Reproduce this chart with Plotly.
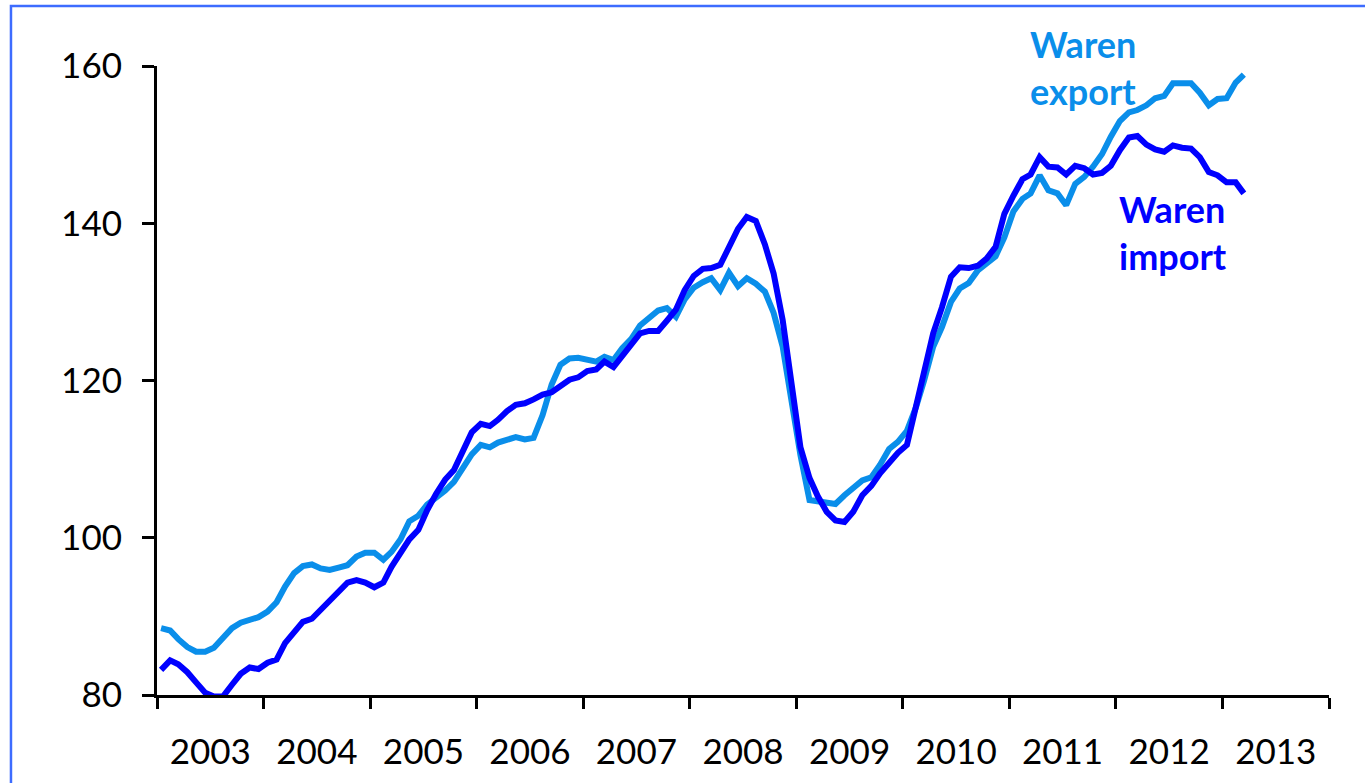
import pandas as pd
import plotly.graph_objects as go

# monthly index values, Jan 2003 .. Mar 2013
START_MONTH = "2003-01-01"

waren_export = [
    88.5, 88.2, 87.1, 86.1, 85.5, 85.5, 86.0, 87.2, 88.5, 89.2, 89.5, 89.9,
    90.6, 91.8, 93.8, 95.5, 96.4, 96.6, 96.1, 95.9, 96.2, 96.5, 97.6, 98.1,
    98.1, 97.2, 98.2, 99.8, 102.1, 102.8, 104.2, 105.0, 106.0, 107.1, 108.9, 110.6,
    111.8, 111.5, 112.1, 112.5, 112.8, 112.5, 112.7, 115.6, 119.5, 122.0, 122.8, 122.9,
    122.6, 122.4, 123.0, 122.6, 124.1, 125.3, 127.0, 128.0, 128.9, 129.2, 128.1, 130.3,
    131.8, 132.5, 133.0, 131.5, 133.7, 132.0, 133.0, 132.3, 131.3, 128.6, 124.3, 117.5,
    110.5, 104.8, 104.6, 104.4, 104.3, 105.4, 106.3, 107.3, 107.7, 109.3, 111.3, 112.2,
    113.6, 116.6, 120.0, 124.3, 126.8, 130.0, 131.7, 132.4, 134.0, 135.0, 135.8, 138.2,
    141.5, 143.1, 143.8, 146.1, 144.2, 143.8, 142.3, 145.0, 145.9, 147.2, 148.8, 151.0,
    153.0, 154.1, 154.4, 155.0, 155.9, 156.2, 157.8, 157.8, 157.8, 156.6, 155.0, 155.8,
    155.9, 157.9, 158.9,
]

waren_import = [
    83.2, 84.4, 83.9, 82.9, 81.6, 80.3, 79.8, 79.8, 81.3, 82.7, 83.5, 83.3,
    84.1, 84.5, 86.6, 87.9, 89.3, 89.7, 90.8, 91.8, 93.1, 94.3, 94.6, 94.3,
    93.7, 94.3, 96.3, 98.2, 99.8, 101.0, 103.5, 105.6, 107.4, 108.6, 111.2, 113.4,
    114.5, 114.2, 115.0, 116.1, 116.9, 117.1, 117.6, 118.2, 118.5, 119.3, 120.1, 120.4,
    121.2, 121.4, 122.4, 121.7, 123.2, 124.6, 126.0, 126.3, 126.3, 127.6, 129.0, 131.5,
    133.3, 134.2, 134.3, 134.7, 136.9, 139.3, 140.8, 140.3, 137.3, 133.6, 127.7, 120.0,
    111.5, 107.6, 105.3, 103.3, 102.2, 102.0, 103.3, 105.4, 106.6, 108.2, 109.5, 110.8,
    111.8, 116.8, 120.5, 126.0, 129.3, 133.2, 134.4, 134.3, 134.6, 135.5, 137.0, 141.2,
    143.5, 145.6, 146.2, 148.4, 147.2, 147.1, 146.2, 147.3, 147.0, 146.2, 146.4, 147.3,
    149.3, 150.9, 151.1, 150.0, 149.4, 149.1, 149.9, 149.6, 149.5, 148.4, 146.5, 146.1,
    145.2, 145.2, 143.8,
]

y_ticks = [80, 100, 120, 140, 160]

EXPORT_COLOR = "#0a8eea"
IMPORT_COLOR = "#0000ff"
FONT = "Lato"

# mid-month dates
months = pd.date_range(START_MONTH, periods=len(waren_export), freq="MS") + pd.Timedelta(days=14)

fig = go.Figure()
fig.add_trace(go.Scatter(
    x=months, y=waren_export, mode="lines", name="Waren export",
    line=dict(color=EXPORT_COLOR, width=6),
))
fig.add_trace(go.Scatter(
    x=months, y=waren_import, mode="lines", name="Waren import",
    line=dict(color=IMPORT_COLOR, width=6),
))

# series labels
fig.add_annotation(
    x=0.743, y=0.998, xref="paper", yref="paper", xanchor="left", yanchor="middle",
    text="<b>Waren<br>export</b>", showarrow=False, align="left",
    font=dict(family=FONT, size=36, color=EXPORT_COLOR),
)
fig.add_annotation(
    x=0.819, y=0.735, xref="paper", yref="paper", xanchor="left", yanchor="middle",
    text="<b>Waren<br>import</b>", showarrow=False, align="left",
    font=dict(family=FONT, size=36, color=IMPORT_COLOR),
)

# blue frame around the chart
fig.add_shape(
    type="rect", xref="paper", yref="paper",
    x0=-0.1246, x1=1.2, y0=-0.3, y1=1.0954,
    line=dict(color="#3d6cff", width=2.5),
)

fig.update_layout(
    width=1365,
    height=783,
    margin=dict(l=157, r=36, t=66, b=88),
    paper_bgcolor="white",
    plot_bgcolor="white",
    showlegend=False,
    font=dict(family=FONT, size=35, color="black"),
    xaxis=dict(
        type="date",
        range=["2003-01-01", "2014-01-01"],
        tick0="2003-01-01",
        dtick="M12",
        tickformat="%Y",
        ticklabelmode="period",
        ticks="outside",
        ticklen=11,
        tickwidth=3,
        tickcolor="black",
        showline=True,
        linewidth=3,
        linecolor="black",
        showgrid=False,
        zeroline=False,
        ticklabelstandoff=13,
        tickfont=dict(family=FONT, size=35, color="black"),
    ),
    yaxis=dict(
        range=[80, 160],
        tickvals=y_ticks,
        ticks="outside",
        ticklen=12,
        tickwidth=3,
        tickcolor="black",
        showline=True,
        linewidth=3,
        linecolor="black",
        showgrid=False,
        zeroline=False,
        ticklabelstandoff=13,
        tickfont=dict(family=FONT, size=35, color="black"),
    ),
)

# drop the default page margin so the figure sits at the window origin
fig.write_html(
    "out.html",
    config={"displayModeBar": False},
    post_script="document.body.style.margin = '0';",
)
